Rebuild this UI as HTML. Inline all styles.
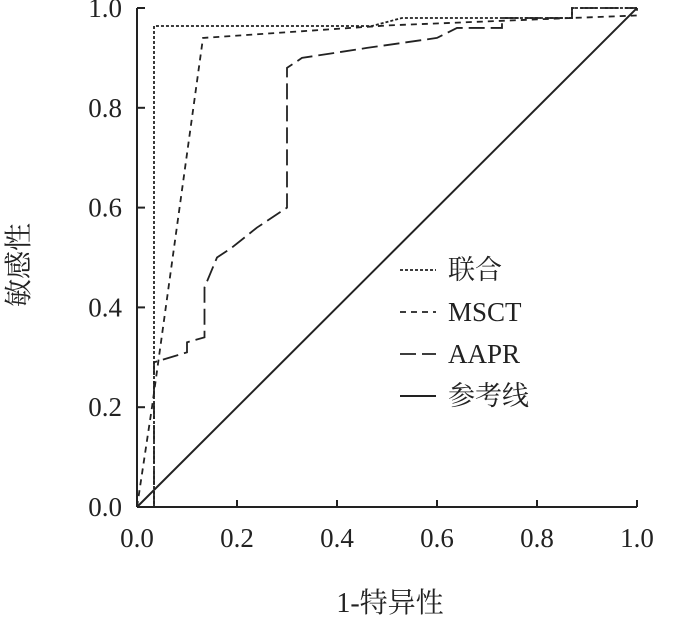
<!DOCTYPE html>
<html><head><meta charset="utf-8"><style>
body{margin:0;background:#fff}
text{font-family:"Liberation Serif","Noto Serif CJK SC",serif;fill:#222}
</style></head><body>
<svg width="674" height="620" viewBox="0 0 674 620">
<g id="axes"></g><g id="series"></g><g id="legend"></g>
<text x="390" y="612" font-size="28" text-anchor="middle">1-特异性</text>
<text transform="translate(28,265) rotate(-90)" font-size="28" text-anchor="middle">敏感性</text>
</svg>
<script>
const ticks=[0,0.2,0.4,0.6,0.8,1.0];
const tickLabels=["0.0","0.2","0.4","0.6","0.8","1.0"];
const seriesNames=["联合","MSCT","AAPR","参考线"];
const combX=[0,0.034,0.034,0.47,0.53,0.87,0.87,1.0];
const combY=[0,0,0.964,0.964,0.98,0.98,1.0,1.0];
const msctX=[0,0.03,0.132,0.5,0.87,1.0,1.0];
const msctY=[0,0.2,0.94,0.965,0.98,0.985,1.0];
const aaprX=[0.034,0.034,0.1,0.1,0.135,0.135,0.16,0.19,0.24,0.3,0.3,0.33,0.46,0.6,0.64,0.73,0.73,0.87,0.87,1.0];
const aaprY=[0,0.29,0.31,0.33,0.34,0.44,0.5,0.52,0.56,0.6,0.88,0.9,0.92,0.94,0.96,0.96,0.98,0.98,1.0,1.0];
const refX=[0,1];const refY=[0,1];
const X=v=>137+500*v, Y=v=>507-499*v;
const NS="http://www.w3.org/2000/svg";
function mk(t,a,p){const e=document.createElementNS(NS,t);for(const k in a)e.setAttribute(k,a[k]);p.appendChild(e);return e;}
const ax=document.getElementById('axes');
const yl=mk('line',{x1:137,y1:Y(1),x2:137,y2:507,stroke:'#222','stroke-width':2},ax);


const xl=mk('line',{x1:137,y1:507,x2:X(1),y2:507,stroke:'#222','stroke-width':2},ax);


ticks.forEach((t,i)=>{
 mk('line',{x1:137,y1:Y(t),x2:145,y2:Y(t),stroke:'#222','stroke-width':2},ax);
 mk('line',{x1:X(t),y1:507,x2:X(t),y2:500,stroke:'#222','stroke-width':2},ax);
 const ty=mk('text',{x:122,y:Y(t)+9,'font-size':27,'text-anchor':'end'},ax);ty.textContent=tickLabels[i];
 
 
 const tx=mk('text',{x:X(t),y:547,'font-size':27,'text-anchor':'middle'},ax);tx.textContent=tickLabels[i];
 
 
});
const styles=[{d:'3,2',w:1.8},{d:'6,5',w:1.8},{d:'16,6',w:1.8},{d:'',w:2}];
const data=[[combX,combY],[msctX,msctY],[aaprX,aaprY],[refX,refY]];
const sg=document.getElementById('series');
data.forEach((s,i)=>{
 const pts=s[0].map((x,j)=>X(x)+','+Y(s[1][j])).join(' ');
 const p=mk('polyline',{points:pts,fill:'none',stroke:'#222','stroke-width':styles[i].w,'stroke-dasharray':styles[i].d},sg);
 
 
});
const lg=document.getElementById('legend');
seriesNames.forEach((n,i)=>{
 const y=270+i*42;
 mk('line',{x1:400,y1:y,x2:436,y2:y,stroke:'#222','stroke-width':styles[i].w,'stroke-dasharray':styles[i].d},lg);
 const t=mk('text',{x:448,y:y+9,'font-size':27},lg);t.textContent=n;
 
 
});
</script>
</body></html>
